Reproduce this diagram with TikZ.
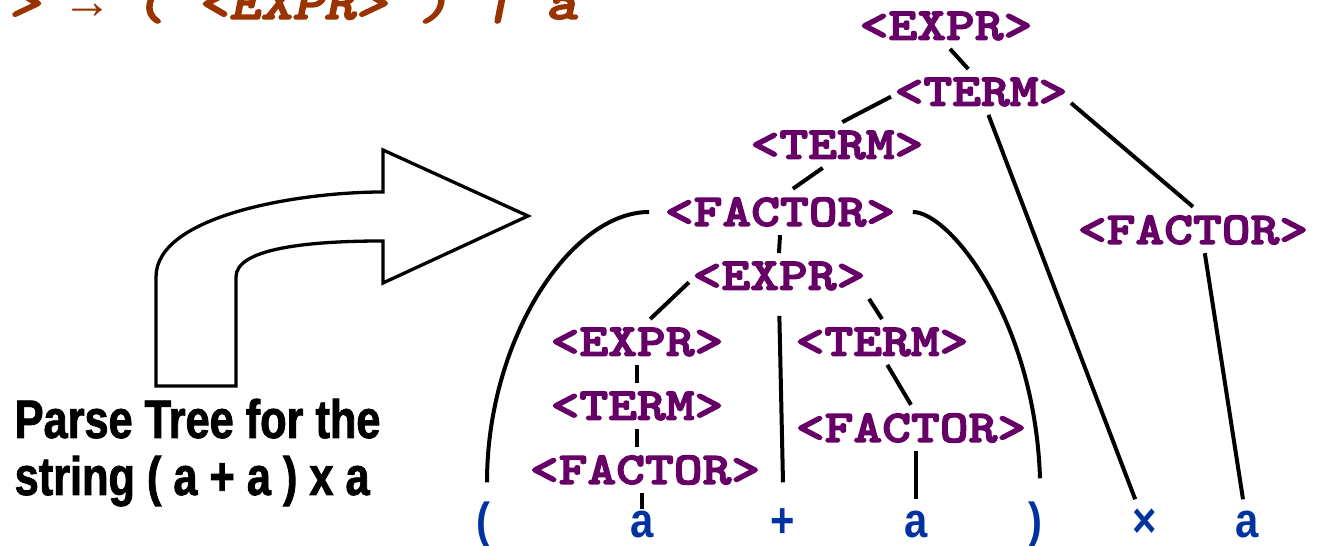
\documentclass[tikz,border=0pt]{standalone}
\usepackage{fontspec}
\setmainfont{Liberation Sans}
\newfontfamily\treefont{lmmonolt10-bold.otf}[FakeStretch=1.2,FakeBold=3]
\newfontfamily\rulefont{lmmonolt10-boldoblique.otf}[FakeStretch=1.2,FakeBold=3]
\newfontfamily\arrowfont{Liberation Mono}
\newfontfamily\leaffont{Liberation Sans}[FakeStretch=0.85]
\newfontfamily\capfont{Liberation Sans}[FakeStretch=0.8,FakeBold=1.5]
\usetikzlibrary{calc}
\definecolor{ntpurple}{RGB}{102,0,102}
\definecolor{leafblue}{RGB}{0,51,160}
\definecolor{rulebrown}{RGB}{153,51,0}

\begin{document}
\begin{tikzpicture}[x=0.1mm,y=0.1mm,
  nt/.style={font=\treefont\fontsize{13pt}{15pt}\selectfont,
    text=ntpurple,inner xsep=0.3mm,inner ysep=0.8mm},
  tm/.style={font=\leaffont\bfseries\fontsize{14pt}{16pt}\selectfont,
    text=leafblue,anchor=base,inner xsep=0pt,inner ysep=1.2mm,
    text height=2.6mm,text depth=0pt},
  caption/.style={font=\capfont\bfseries\fontsize{15.4pt}{17pt}\selectfont,
    anchor=base west,inner sep=0pt},
  link/.style={line width=0.4mm}]
  \useasboundingbox (0,0) rectangle (1317,546);
  % end of the grammar rule, cut off by the page
  \node[font=\rulefont\fontsize{14.3pt}{16pt}\selectfont,
    text=rulebrown,anchor=base east,inner sep=0pt] (rule) at (578,527)
    {> {\arrowfont\bfseries\itshape →} ( <EXPR> ) | a};
  % bent arrow
  \draw[line width=0.33mm,fill=white] (156,160) -- (156,269)
    .. controls (156,331) and (300,354) .. (383,354) -- (383,396)
    -- (528,330) -- (383,263) -- (383,305)
    .. controls (300,305) and (236,296) .. (236,269) -- (236,160) -- cycle;
  \node[caption] (capA) at (14,108) {Parse Tree for the};
  \node[caption] (capB) at (14,51) {string ( a + a ) x a};
  % nonterminals
  \node[nt] (exprRoot) at (946,520) {<EXPR>};
  \node[nt] (termTop) at (981,454) {<TERM>};
  \node[nt] (termLeft) at (837,401) {<TERM>};
  \node[nt] (factorParen) at (780,334) {<FACTOR>};
  \node[nt] (factorRight) at (1193,316) {<FACTOR>};
  \node[nt] (exprInner) at (779,270) {<EXPR>};
  \node[nt] (exprLeft) at (637,204) {<EXPR>};
  \node[nt] (termMid) at (882,204) {<TERM>};
  \node[nt] (termLow) at (637,140) {<TERM>};
  \node[nt] (factorMid) at (911,118) {<FACTOR>};
  \node[nt] (factorLow) at (645,76) {<FACTOR>};
  % terminals
  \node[tm] (lpar) at (483,8) {(};
  \node[tm] (aOne) at (642,8) {a};
  \node[tm] (plus) at (783,8) {+};
  \node[tm] (aTwo) at (916,8) {a};
  \node[tm] (rpar) at (1035,8) {)};
  \node[tm] (times) at (1145,8) {×};
  \node[tm] (aThree) at (1247,8) {a};
  % branches
  \draw[link] (exprRoot.-80) -- (termTop.119);
  \draw[link] (termTop.183) -- (termLeft.77);
  \draw[link] (termLeft.238) -- (factorParen.61);
  \draw[link] (termTop.-72) -- (times);
  \draw[link] (termTop.-7) -- (factorRight.north);
  \draw[link] (factorRight.-63) -- (aThree);
  \draw[link] (factorParen.south) -- (exprInner.north);
  \draw[link] (exprInner.184) -- (exprLeft.60);
  \draw[link,shorten <=1.7mm] (exprInner.south) -- ([yshift=1.7mm]plus.north);
  \draw[link] (exprInner.south east) -- (termMid.north);
  \draw[link] (exprLeft.south) -- (termLow.north);
  \draw[link] (termLow.south) -- (termLow.south |- factorLow.north);
  \draw[link] (aOne.north |- factorLow.south) -- ([yshift=-1mm]aOne.north);
  \draw[link] (termMid.-77) -- (factorMid.north);
  \draw[link] (aTwo.north |- factorMid.south) -- (aTwo.north);
  \draw[link] ([xshift=-1.2mm]factorParen.west)
    .. controls (570,334) and (487,206) .. ([shift={(0.4mm,1.7mm)}]lpar.north);
  \draw[link] ([xshift=1.4mm]factorParen.east)
    .. controls (950,334) and (1035,226) .. ([shift={(0.5mm,2.1mm)}]rpar.north);
\end{tikzpicture}
\end{document}
